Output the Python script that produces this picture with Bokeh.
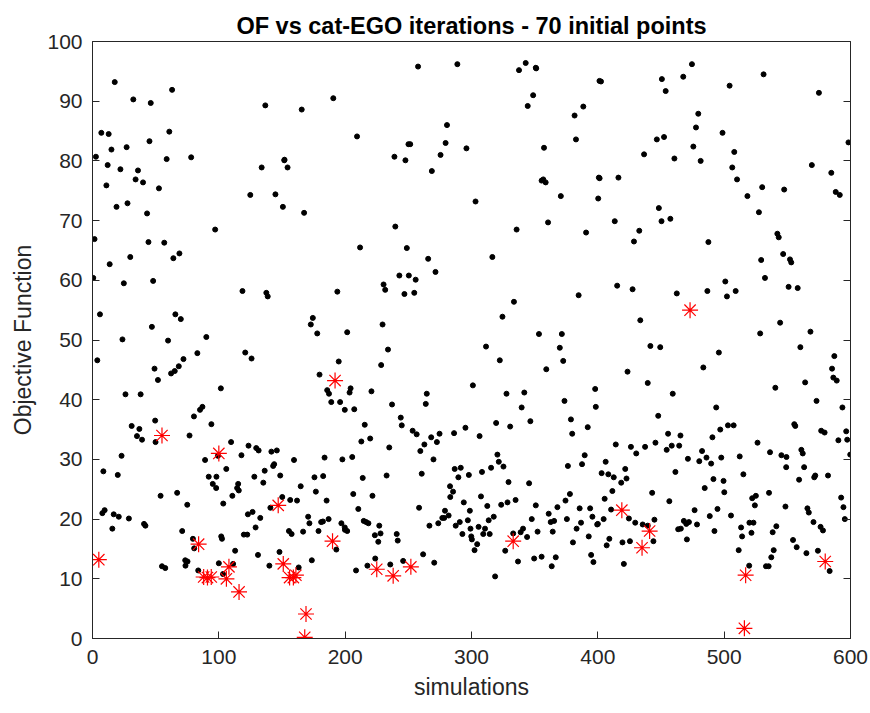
from bokeh.plotting import figure
from bokeh.models import LinearAxis, Range1d, FixedTicker
from bokeh.embed import file_html
from bokeh.resources import INLINE

# ---- data ----
sim_pts = [
    (17.6,93.2),(32.3,90.3),(46.1,89.7),(7.0,84.7),(12.8,84.5),(45.1,83.3),(2.7,80.7),(15.0,81.9),(27.0,82.3),
    (12.0,79.3),(22.1,78.6),(36.0,78.4),(34.1,76.9),(40.0,76.4),(11.0,75.9),(19.0,72.3),(27.7,72.9),(43.2,71.2),
    (1.6,66.9),(44.3,66.4),(13.6,62.7),(29.9,63.9),(0.6,60.4),(24.8,59.5),(48.0,59.9),(5.9,54.3),(47.0,52.2),
    (23.7,50.1),(3.8,46.6),(49.1,45.2),(26.1,40.9),(38.1,40.9),(31.0,35.6),(37.1,35.1),(35.2,33.9),(39.2,33.3),
    (49.6,36.5),(49.9,32.9),(23.0,30.6),(8.6,28.0),(20.0,27.4),(7.8,21.0),(9.6,21.5),(16.8,20.8),(20.8,20.4),
    (28.8,20.1),(15.7,18.4),(40.8,19.2),(41.9,18.9),
    (63.0,91.9),(60.8,84.9),(58.7,80.3),(78.1,80.6),(52.6,75.4),(97.1,68.5),(56.8,66.3),(64.0,63.7),(68.8,64.5),
    (65.6,54.3),(69.9,53.5),(59.8,49.9),(90.1,50.5),(83.0,47.8),(72.0,46.8),(51.8,43.3),(62.2,44.4),(65.1,44.8),
    (68.3,45.6),(101.6,41.9),(87.0,38.8),(85.1,38.3),(80.3,37.2),(94.1,35.9),(76.8,34.0),(89.1,29.9),(92.0,27.1),
    (98.1,27.1),(95.2,25.9),(53.9,23.9),(67.0,24.4),(75.0,22.4),(71.0,18.0),(79.5,16.7),(80.5,15.1),(101.9,17.1),
    (73.4,13.1),(75.2,12.9),(73.6,12.2),(55.0,12.1),(57.6,11.8),(83.7,11.4),(100.0,12.6),
    (136.8,89.3),(133.9,78.9),(124.9,74.3),(144.8,74.4),(150.7,72.3),(151.8,80.1),(118.7,58.2),(137.6,57.9),
    (138.7,57.3),(120.9,47.9),(125.9,46.9),(109.7,32.9),(123.5,32.3),(129.6,31.9),(131.5,31.5),(141.6,31.3),
    (145.9,31.5),(117.9,30.7),(99.3,30.6),(143.8,29.2),(143.0,28.9),(136.3,28.1),(128.1,27.1),(148.6,27.3),
    (105.9,28.4),(97.9,25.2),(115.3,25.9),(114.5,25.2),(115.8,24.8),(110.7,23.9),(135.2,26.1),(103.5,22.6),
    (150.2,23.7),(140.8,21.9),(126.7,21.2),(123.0,20.8),(132.8,20.2),(129.1,18.6),(102.5,16.7),(119.8,17.4),
    (122.5,17.4),(112.9,14.7),(131.0,14.0),(140.0,12.2),(148.0,14.5),(111.3,12.5),(103.3,10.8),
    (190.6,90.5),(165.6,88.6),(152.0,80.2),(154.4,78.9),(167.5,71.3),(193.8,58.1),(174.4,53.7),(172.8,52.6),
    (177.9,51.1),(201.6,51.3),(194.9,46.4),(179.7,44.2),(185.8,41.6),(187.2,41.0),(189.0,39.6),(196.0,39.6),
    (199.7,38.3),(159.5,29.9),(183.7,30.3),(197.8,30.0),(175.7,27.0),(182.6,27.2),(164.8,25.5),(176.8,24.6),
    (156.5,23.2),(161.9,23.1),(185.3,23.1),(170.7,20.4),(171.7,19.3),(181.0,19.5),(182.4,19.6),(186.9,20.0),
    (197.0,19.3),(199.7,18.6),(155.5,18.0),(157.6,17.5),(166.7,17.9),(178.9,18.0),(193.0,14.9),(173.6,13.1),
    (163.2,11.9),
    (209.4,84.1),(250.1,82.8),(239.0,80.7),(247.7,80.1),(239.7,69.0),(211.8,65.5),(248.8,65.4),(242.9,60.8),
    (250.4,60.8),(230.4,59.3),(231.7,58.4),(246.9,57.7),(229.6,52.6),(233.9,48.4),(228.5,45.8),(204.3,41.9),
    (203.5,41.2),(207.2,38.4),(220.8,41.4),(237.1,39.2),(244.0,37.0),(244.8,35.7),(215.5,35.8),(212.8,33.0),
    (219.8,33.5),(205.6,30.4),(234.9,32.0),(213.9,26.9),(232.8,27.3),(206.4,24.2),(221.6,23.9),(210.4,21.7),
    (214.7,19.7),(216.6,19.5),(218.4,19.3),(199.8,18.2),(201.6,18.0),(227.0,18.9),(228.0,17.6),(223.5,17.3),
    (226.2,16.2),(240.8,17.5),(241.6,16.4),(223.8,13.4),(217.6,12.2),(235.7,12.4),(245.9,13.0),(208.6,11.4),
    (257.7,95.8),(288.8,96.2),(280.6,86.0),(251.5,82.8),(279.5,83.0),(275.5,81.0),(296.0,82.1),(268.6,78.3),
    (265.7,63.6),(271.5,61.4),(255.8,60.1),(254.7,57.9),(301.1,42.4),(264.6,41.0),(263.8,39.3),(253.4,34.8),
    (256.6,34.2),(268.1,33.7),(274.7,34.3),(272.6,32.9),(262.7,32.5),(286.2,34.4),(295.2,35.3),(259.5,31.4),
    (269.9,30.0),(260.6,27.6),(286.7,28.4),(291.5,28.6),(289.6,27.0),(297.9,27.4),(283.0,25.5),(285.4,24.6),
    (283.2,23.7),(258.5,21.9),(293.9,22.8),(279.0,21.4),(298.7,21.4),(276.9,20.2),(278.4,20.2),(281.9,20.6),
    (297.1,19.8),(266.7,18.9),(273.7,19.3),(287.5,18.9),(290.7,19.5),(299.2,18.4),(299.8,17.1),(292.8,17.5),
    (261.7,14.1),(270.5,12.7),
    (342.9,96.4),(337.6,95.2),(350.9,95.6),(348.8,91.0),(344.5,89.2),(303.2,73.2),(335.7,68.5),(316.5,63.9),
    (333.6,56.4),(324.5,53.9),(311.5,48.9),(322.4,46.6),(327.7,41.0),(341.8,41.2),(339.7,38.7),(319.5,36.1),
    (330.6,35.5),(346.6,36.4),(306.4,33.9),(320.5,30.8),(321.6,29.6),(325.3,28.8),(308.3,27.9),(315.5,28.6),
    (329.3,26.2),(345.6,26.0),(307.5,23.8),(312.5,22.2),(323.5,22.4),(328.5,22.8),(334.9,23.2),(350.9,22.3),
    (313.6,19.8),(317.6,20.4),(347.7,20.0),(305.6,18.7),(310.7,18.4),(309.3,17.5),(314.4,17.5),(300.3,16.6),
    (304.5,15.8),(302.4,14.8),(333.0,17.6),(338.9,17.8),(340.8,18.4),(344.0,17.0),(326.7,14.7),(336.8,12.9),
    (349.6,13.4),(318.7,10.4),
    (351.2,95.5),(388.5,89.1),(381.6,87.6),(382.7,83.6),(357.4,82.2),(401.3,93.4),(355.5,76.7),(356.8,76.9),
    (358.7,76.4),(370.7,74.1),(400.8,77.2),(400.3,73.7),(360.6,69.7),(390.7,68.0),(384.8,57.5),(353.4,51.0),
    (371.5,51.0),(369.9,48.7),(372.6,46.5),(359.2,45.1),(397.9,41.8),(398.4,38.8),(373.6,39.8),(378.7,36.7),
    (379.7,34.3),(392.0,35.4),(389.6,30.7),(387.5,29.2),(376.3,28.9),(377.9,24.2),(374.4,23.1),(368.0,22.0),
    (361.1,20.9),(385.6,21.8),(393.9,21.8),(375.5,20.0),(395.7,20.4),(362.7,19.5),(365.4,19.7),(386.7,19.4),
    (383.2,18.4),(400.0,19.2),(352.3,17.9),(364.3,17.9),(392.8,17.1),(380.3,16.1),(394.7,14.0),(396.5,12.8),
    (355.5,13.7),(366.7,13.6),(363.5,12.1),
    (402.5,93.3),(450.7,93.7),(446.7,83.6),(436.6,81.1),(401.4,77.1),(416.3,77.2),(448.3,72.1),(450.4,69.9),
    (413.4,69.9),(432.8,68.3),(428.6,66.5),(415.3,59.1),(427.5,58.5),(433.6,53.3),(441.6,49.0),(449.4,48.8),
    (423.5,44.7),(439.5,42.8),(447.8,37.3),(414.2,32.5),(426.2,32.1),(430.4,31.0),(437.4,32.1),(445.6,32.8),
    (406.2,29.6),(421.7,28.4),(403.0,27.7),(408.3,27.5),(412.6,27.0),(422.7,26.8),(418.5,26.1),(411.5,24.7),
    (443.0,24.4),(405.4,23.4),(410.5,21.6),(404.6,20.0),(399.5,19.1),(424.6,20.1),(429.6,19.4),(435.5,19.1),
    (444.8,19.9),(439.5,18.9),(409.1,16.7),(407.0,15.6),(419.5,16.1),(425.4,16.3),(444.0,16.3),(420.6,12.5),
    (474.5,96.2),(467.6,94.1),(453.7,91.7),(479.5,87.9),(477.7,85.6),(498.7,84.7),(452.4,84.0),(475.6,82.4),
    (460.6,80.4),(481.4,80.0),(457.4,70.3),(487.5,66.4),(500.9,59.8),(462.5,57.8),(486.7,58.2),(495.8,47.9),
    (483.5,45.4),(459.3,41.0),(493.7,38.7),(496.9,35.0),(455.6,34.3),(465.4,34.0),(490.7,33.7),(454.5,31.6),
    (458.5,32.3),(464.4,32.3),(482.5,31.4),(471.3,30.1),(480.3,29.7),(486.0,30.3),(489.7,29.3),(497.7,30.3),
    (461.4,27.9),(491.5,26.7),(499.5,26.4),(484.6,25.2),(500.1,24.5),(456.6,23.0),(476.6,21.5),(494.7,21.7),
    (488.6,20.5),(468.1,19.7),(470.0,19.2),(472.1,19.5),(478.5,19.1),(463.6,18.3),(465.7,18.4),(492.3,18.0),
    (470.5,16.6),
    (531.2,94.5),(504.3,92.6),(508.0,81.5),(506.4,78.9),(510.2,76.9),(530.1,75.6),(547.5,75.2),(518.4,74.1),
    (527.5,71.4),(542.1,67.8),(543.2,67.2),(546.7,64.4),(529.3,63.4),(532.3,60.4),(502.2,57.3),(509.1,58.2),
    (544.3,52.9),(528.5,51.1),(540.5,42.0),(503.0,35.7),(507.5,35.7),(526.4,32.8),(536.3,31.2),(512.3,30.5),
    (545.3,30.7),(549.3,30.4),(549.1,28.7),(515.2,27.5),(522.2,23.5),(525.1,23.9),(535.5,24.4),(524.3,22.3),
    (548.5,22.1),(505.4,20.6),(520.0,19.4),(523.2,19.4),(513.4,18.6),(541.3,18.8),(538.4,17.8),(521.6,17.7),
    (514.2,17.1),(511.5,14.8),(539.2,14.8),(537.3,13.6),(519.8,12.2),(533.1,12.1),(535.2,12.1),
    (575.0,91.4),(598.4,83.1),(569.4,79.3),(584.8,78.0),(588.3,74.8),(591.5,74.3),(552.1,63.5),(553.1,63.0),
    (551.0,58.9),(558.2,58.7),(568.3,51.4),(560.3,48.8),(587.2,47.3),(585.4,45.2),(586.4,43.7),(589.1,43.2),
    (564.1,42.9),(573.1,39.8),(593.6,38.7),(555.5,35.9),(556.3,35.6),(576.8,34.8),(579.5,34.5),(596.6,34.7),
    (590.4,33.2),(597.4,33.3),(561.1,31.6),(562.2,31.0),(599.8,30.8),(563.3,28.7),(572.1,27.3),(571.3,27.0),
    (582.2,27.3),(559.3,26.6),(565.9,21.8),(567.0,21.1),(592.6,23.6),(594.4,22.0),(595.5,20.0),(570.7,19.5),
    (576.3,18.7),(578.2,18.1),(554.5,16.5),(557.4,15.3),(565.1,14.3),(574.2,14.7),(583.5,11.3),
]
sim_x = [p[0] for p in sim_pts]
of_y = [p[1] for p in sim_pts]

best_x = [5, 55, 84, 88, 91, 94, 100, 106, 108, 116, 147, 151, 156, 159, 161, 168, 169, 190, 192,
          225, 238, 252, 333, 419, 435, 441, 473, 516, 517, 580]
best_y = [13.2, 34.0, 15.8, 10.3, 10.2, 10.3, 31.0, 10.0, 12.0, 7.8, 22.3, 12.5, 10.2, 10.2, 10.6, 0.2, 4.1, 16.3, 43.2,
          11.6, 10.5, 12.0, 16.3, 21.5, 15.2, 18.0, 55.0, 1.7, 10.6, 12.9]

x_ticks = [0, 100, 200, 300, 400, 500, 600]
y_ticks = [0, 10, 20, 30, 40, 50, 60, 70, 80, 90, 100]
title_text = "OF vs cat-EGO iterations - 70 initial points"

FONT = "Liberation Sans"
AX = "#262626"

p = figure(width=870, height=713, output_backend="svg", toolbar_location=None,
           x_range=Range1d(0, 600), y_range=Range1d(0, 100),
           frame_width=758, frame_height=597,
           min_border_left=92, min_border_right=20, min_border_top=41, min_border_bottom=75,
           background_fill_color="white", border_fill_color="white")

p.title.text = title_text
p.title.align = "center"
p.title.text_font = FONT
p.title.text_font_size = "23.5px"
p.title.text_font_style = "bold"
p.title.text_color = "black"
p.title.offset = 0
p.title.standoff = 6

p.grid.visible = False
p.outline_line_color = AX
p.outline_line_width = 1

for ax in (p.xaxis[0], p.yaxis[0]):
    ax.major_tick_in = 7
    ax.major_tick_out = 0
    ax.minor_tick_line_color = None
    ax.axis_line_color = AX
    ax.major_tick_line_color = AX
    ax.major_label_text_font = FONT
    ax.major_label_text_font_size = "21px"
    ax.major_label_text_color = AX
    ax.axis_label_text_font = FONT
    ax.axis_label_text_font_size = "23px"
    ax.axis_label_text_font_style = "normal"
    ax.axis_label_text_color = AX

p.xaxis[0].ticker = FixedTicker(ticks=x_ticks)
p.yaxis[0].ticker = FixedTicker(ticks=y_ticks)
p.xaxis[0].axis_label = "simulations"
p.yaxis[0].axis_label = "Objective Function"
p.xaxis[0].major_label_standoff = 11
p.yaxis[0].major_label_standoff = 10
p.xaxis[0].axis_label_standoff = 7
p.yaxis[0].axis_label_standoff = 8

right = LinearAxis(ticker=FixedTicker(ticks=y_ticks), major_label_text_font_size="0px",
                   major_tick_in=7, major_tick_out=0, minor_tick_line_color=None,
                   axis_line_color=AX, major_tick_line_color=AX)
p.add_layout(right, "right")

p.scatter(sim_x, of_y, size=5, color="black", marker="circle")
p.scatter(best_x, best_y, size=16, marker="asterisk", line_color="red", line_width=1.2)

open("out.html", "w").write(file_html(p, INLINE))
